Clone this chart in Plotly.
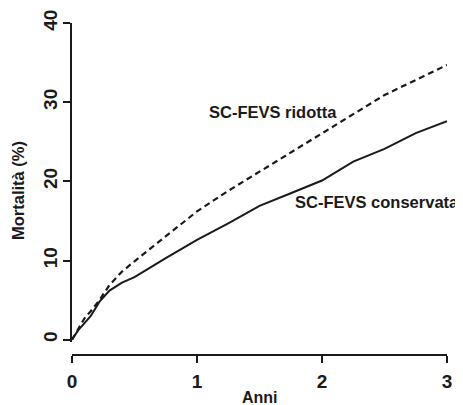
import plotly.graph_objects as go

years = [0, 0.05, 0.1, 0.15, 0.22, 0.3, 0.4, 0.5, 0.75, 1.0, 1.25, 1.5, 1.75, 2.0, 2.25, 2.5, 2.75, 3.0]
conservata = [0, 1.2, 2.1, 3.0, 4.8, 6.2, 7.2, 7.9, 10.3, 12.6, 14.7, 16.9, 18.5, 20.1, 22.5, 24.1, 26.1, 27.6]
ridotta = [0, 1.4, 2.7, 3.6, 5.0, 6.9, 8.6, 9.9, 13.1, 16.2, 18.8, 21.2, 23.6, 26.1, 28.4, 30.9, 32.8, 34.7]

x_ticks = [0, 1, 2, 3]
y_ticks = [0, 10, 20, 30, 40]

label_ridotta = "SC-FEVS ridotta"
label_conservata = "SC-FEVS conservata"
x_title = "Anni"
y_title = "Mortalità (%)"

FONT = "Liberation Sans, Arial, sans-serif"
INK = "#1a1a1a"

fig = go.Figure()
fig.add_trace(go.Scatter(x=years, y=ridotta, mode="lines",
                         line=dict(color=INK, width=2.2, dash="6px,4px"),
                         name=label_ridotta, showlegend=False))
fig.add_trace(go.Scatter(x=years, y=conservata, mode="lines",
                         line=dict(color=INK, width=2),
                         name=label_conservata, showlegend=False))

fig.add_annotation(x=1.61, y=28.75, xref="x", yref="y", text=label_ridotta, showarrow=False,
                   font=dict(family=FONT, size=16.5, color=INK, weight="bold"))
fig.add_annotation(x=2.44, y=17.4, xref="x", yref="y", text=label_conservata, showarrow=False,
                   font=dict(family=FONT, size=16.5, color=INK, weight="bold"))

# axis titles
fig.add_annotation(x=0.5, y=0, xref="paper", yref="paper", text=x_title, showarrow=False,
                   xanchor="center", yanchor="middle", yshift=-42,
                   font=dict(family=FONT, size=16, color=INK, weight="bold"))
fig.add_annotation(x=0, y=0.494, xref="paper", yref="paper", text=y_title, showarrow=False,
                   xanchor="center", yanchor="middle", xshift=-54, textangle=-90,
                   font=dict(family=FONT, size=16.5, color=INK, weight="bold"))

fig.update_layout(
    width=455, height=397,
    margin=dict(l=64, r=16, t=15, b=50),
    paper_bgcolor="white", plot_bgcolor="white",
    font=dict(family=FONT, color=INK),
    xaxis=dict(range=[0, 3], tickvals=x_ticks, ticktext=[str(v) for v in x_ticks],
               showgrid=False, zeroline=False, showline=True, linecolor=INK, linewidth=2,
               ticks="outside", ticklen=7, tickwidth=2, tickcolor=INK,
               tickfont=dict(size=19, weight="bold"), anchor="free", position=0,
               automargin=False, ticklabelstandoff=2),
    yaxis=dict(range=[-0.3, 40], domain=[0.039, 1], tickvals=y_ticks, ticktext=[str(v) for v in y_ticks],
               showgrid=False, zeroline=False, showline=True, linecolor=INK, linewidth=2,
               ticks="outside", ticklen=7, tickwidth=2, tickcolor=INK, tickangle=-90,
               tickfont=dict(size=19, weight="bold"), automargin=False, ticklabelstandoff=-2),
)

fig.write_html("out.html")
